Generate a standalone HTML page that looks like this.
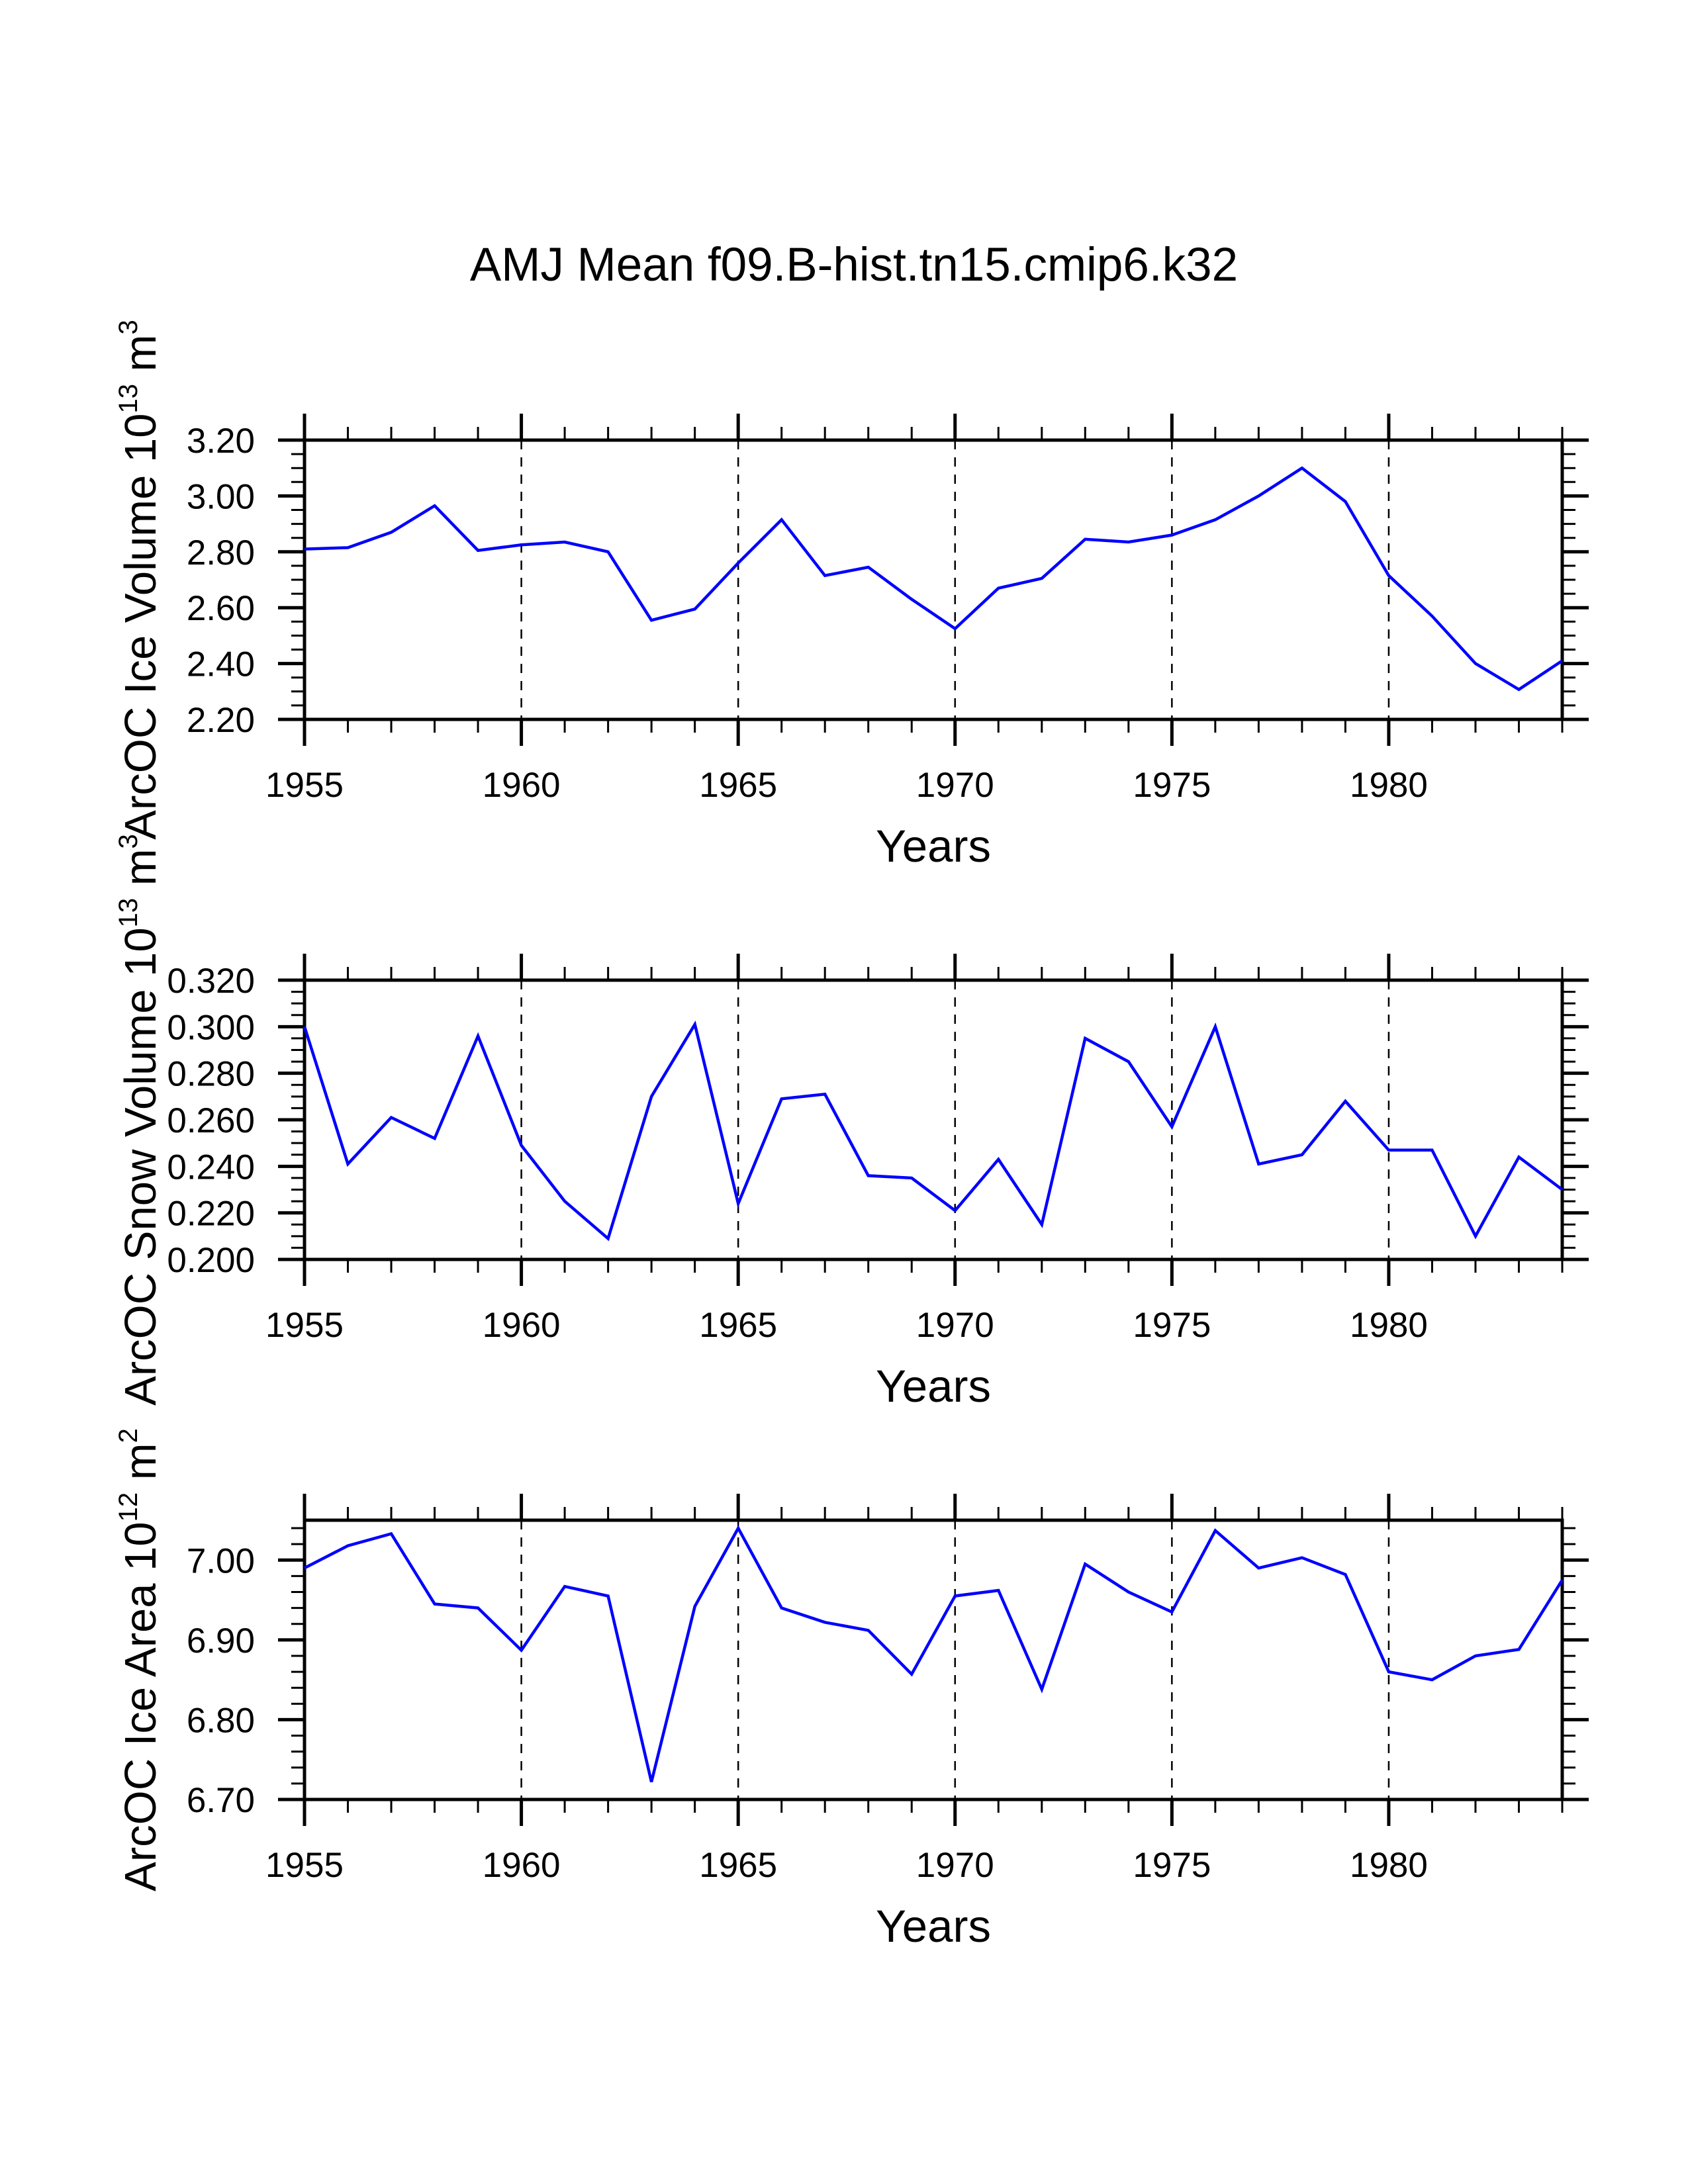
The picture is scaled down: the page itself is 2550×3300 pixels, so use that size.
<!DOCTYPE html>
<html><head><meta charset="utf-8"><style>
html,body{margin:0;padding:0;background:#fff;}
svg{display:block;font-family:"Liberation Sans",Arial,sans-serif;}
</style></head><body>
<svg id="chart" width="2550" height="3300" viewBox="0 0 2550 3300" xmlns="http://www.w3.org/2000/svg">
<rect x="0" y="0" width="2550" height="3300" fill="#fff"/>
<text x="1290" y="424" font-size="71" text-anchor="middle">AMJ Mean f09.B-hist.tn15.cmip6.k32</text>
</svg>
<script>
const years = [1955,1956,1957,1958,1959,1960,1961,1962,1963,1964,1965,1966,1967,1968,1969,1970,1971,1972,1973,1974,1975,1976,1977,1978,1979,1980,1981,1982,1983,1984];
const iceVolume = [2.81,2.815,2.87,2.965,2.805,2.825,2.835,2.80,2.555,2.595,2.76,2.915,2.715,2.745,2.63,2.525,2.67,2.705,2.845,2.835,2.86,2.915,3.00,3.10,2.98,2.715,2.57,2.40,2.307,2.41];
const snowVolume = [0.300,0.241,0.261,0.252,0.296,0.249,0.225,0.209,0.270,0.301,0.224,0.269,0.271,0.236,0.235,0.221,0.243,0.215,0.295,0.285,0.257,0.300,0.241,0.245,0.268,0.247,0.247,0.210,0.244,0.230];
const iceArea = [6.99,7.018,7.033,6.945,6.940,6.887,6.967,6.955,6.722,6.942,7.04,6.94,6.922,6.912,6.857,6.955,6.962,6.838,6.995,6.96,6.935,7.037,6.99,7.003,6.982,6.86,6.85,6.88,6.888,6.975];
const xTickLabels = ["1955","1960","1965","1970","1975","1980"];
const iceVolumeTicks = ["2.20","2.40","2.60","2.80","3.00","3.20"];
const snowVolumeTicks = ["0.200","0.220","0.240","0.260","0.280","0.300","0.320"];
const iceAreaTicks = ["6.70","6.80","6.90","7.00"];

const NS="http://www.w3.org/2000/svg";
const svg=document.getElementById('chart');
const X0=460,X1=2360,XMIN=1955,XMAX=1984;
function xs(v){return X0+(v-XMIN)/(XMAX-XMIN)*(X1-X0);}
function mk(tag,attrs,parent){const e=document.createElementNS(NS,tag);for(const k in attrs)e.setAttribute(k,attrs[k]);(parent||svg).appendChild(e);return e;}

const panels=[
 {name:'ice-volume',top:665,ymin:2.2,ymax:3.2,minor:0.05,ticks:iceVolumeTicks,data:iceVolume,label:'ArcOC Ice Volume 10',sup:'13',unit:' m',usup:'3'},
 {name:'snow-volume',top:1481,ymin:0.2,ymax:0.32,minor:0.005,ticks:snowVolumeTicks,data:snowVolume,label:'ArcOC Snow Volume 10',sup:'13',unit:' m',usup:'3'},
 {name:'ice-area',top:2297,ymin:6.7,ymax:7.05,minor:0.02,ticks:iceAreaTicks,data:iceArea,label:'ArcOC Ice Area 10',sup:'12',unit:' m',usup:'2'}
];
const H=422;
panels.forEach(p=>{
  const g=mk('g',{});
  
  
  const top=p.top,bot=top+H;
  const ys=v=>bot-(v-p.ymin)/(p.ymax-p.ymin)*H;
  xTickLabels.forEach(t=>{const yr=+t;if(yr===XMIN||yr===XMAX)return;
    const l=mk('line',{x1:xs(yr),x2:xs(yr),y1:top,y2:bot,stroke:'#000','stroke-width':2.5,'stroke-dasharray':'14 12'},g);
    
    
  });
  years.forEach(yr=>{const major=(yr-XMIN)%5===0;const len=major?40:20;const w=major?5:3;const x=xs(yr);
    mk('line',{x1:x,x2:x,y1:top,y2:top-len,stroke:'#000','stroke-width':w},g);
    mk('line',{x1:x,x2:x,y1:bot,y2:bot+len,stroke:'#000','stroke-width':w},g);
  });
  const n=Math.round((p.ymax-p.ymin)/p.minor);
  const majorStep=(+p.ticks[1])-(+p.ticks[0]);
  for(let i=0;i<=n;i++){const v=p.ymin+i*p.minor;const r=(v-p.ymin)/majorStep;const major=Math.abs(r-Math.round(r))<1e-6;
    const len=major?40:20;const w=major?5:3;const y=ys(v);
    mk('line',{x1:X0,x2:X0-len,y1:y,y2:y,stroke:'#000','stroke-width':w},g);
    mk('line',{x1:X1,x2:X1+len,y1:y,y2:y,stroke:'#000','stroke-width':w},g);
  }
  const fr=mk('rect',{x:X0,y:top,width:X1-X0,height:H,fill:'none',stroke:'#000','stroke-width':5},g);
  
  
  p.ticks.forEach(t=>{const tx=mk('text',{x:385,y:ys(+t)+19,'font-size':53,'text-anchor':'end'},g);tx.textContent=t;
    
    });
  xTickLabels.forEach(t=>{const tx=mk('text',{x:xs(+t),y:bot+117,'font-size':53,'text-anchor':'middle'},g);tx.textContent=t;
    
    });
  const xt=mk('text',{x:(X0+X1)/2,y:bot+215,'font-size':69,'text-anchor':'middle'},g);xt.textContent='Years';
  
  
  const cy=(top+bot)/2;
  const yt=mk('text',{x:0,y:0,'font-size':67,'text-anchor':'middle',transform:'translate(235,'+cy+') rotate(-90)'},g);
  
  
  const a=mk('tspan',{},yt);a.textContent=p.label;
  const b=mk('tspan',{'font-size':40,dy:-28},yt);b.textContent=p.sup;
  const c=mk('tspan',{dy:28},yt);c.textContent=p.unit;
  const d=mk('tspan',{'font-size':40,dy:-28},yt);d.textContent=p.usup;
  const pts=p.data.map((v,i)=>xs(years[i]).toFixed(1)+','+ys(v).toFixed(1)).join(' ');
  const pl=mk('polyline',{points:pts,fill:'none',stroke:'#0000ff','stroke-width':4.5,'stroke-linejoin':'miter'},g);
  
  
});
</script>
</body></html>
